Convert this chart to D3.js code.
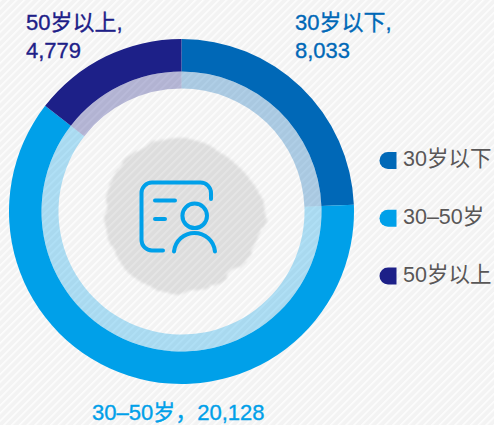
<!DOCTYPE html>
<html>
<head>
<meta charset="utf-8">
<script src="https://cdn.jsdelivr.net/npm/d3@7"></script>
<style>
html, body { margin: 0; padding: 0; background: #f5f5f5; overflow: hidden; }
text { font-family: "Liberation Sans", "Noto Sans CJK SC", sans-serif; }
</style>
</head>
<body>
<svg width="494" height="425"></svg>
<script>
const categories = ['30岁以下', '30–50岁', '50岁以上'];
const values = [8033, 20128, 4779];
const colors = ['#0068b7', '#00a0e9', '#1d2088'];
// rough outline of the grey blob behind the icon, radius per step round the circle
const blobRadii = [77, 75, 72, 72, 74, 78, 80, 78, 76, 73, 74, 77, 78, 79, 80, 81, 80, 80, 80, 81, 80, 81, 80, 78];

let svg = d3.select('svg');
let cx = 181.5, cy = 211.5;

let defs = svg.append('defs');
let hatch = defs.append('pattern')
    .attr('id', 'hatch')
    .attr('width', 5.5)
    .attr('height', 5.5)
    .attr('patternUnits', 'userSpaceOnUse')
    .attr('patternTransform', 'rotate(45)');
hatch.append('rect').attr('width', 5.5).attr('height', 5.5).attr('fill', '#f3f3f3');
hatch.append('rect').attr('width', 1.6).attr('height', 5.5).attr('fill', '#fdfdfd');

let soft = defs.append('filter').attr('id', 'soft')
    .attr('x', '-20%').attr('y', '-20%').attr('width', '140%').attr('height', '140%');
soft.append('feTurbulence')
    .attr('type', 'fractalNoise')
    .attr('baseFrequency', 0.05)
    .attr('numOctaves', 3)
    .attr('seed', 4)
    .attr('result', 'noise');
soft.append('feDisplacementMap')
    .attr('in', 'SourceGraphic')
    .attr('in2', 'noise')
    .attr('scale', 9)
    .attr('result', 'rough');
soft.append('feGaussianBlur').attr('in', 'rough').attr('stdDeviation', 1.2);

svg.append('rect').attr('width', 494).attr('height', 425).attr('fill', 'url(#hatch)');

// grey blob
let blob = d3.lineRadial()
    .angle((d, i) => i / blobRadii.length * 2 * Math.PI)
    .radius(d => d)
    .curve(d3.curveCatmullRomClosed);
svg.append('path')
    .attr('transform', 'translate(185,215)')
    .attr('d', blob(blobRadii))
    .attr('fill', '#000')
    .attr('fill-opacity', 0.09)
    .attr('filter', 'url(#soft)');

// rings
let pie = d3.pie().sort(null).value(d => d);
let outer = d3.arc().innerRadius(140).outerRadius(172.5);
let inner = d3.arc().innerRadius(123).outerRadius(140);
let g = svg.append('g').attr('transform', 'translate(' + cx + ',' + cy + ')');
g.selectAll('path.outer')
    .data(pie(values))
    .enter().append('path')
    .attr('class', 'outer')
    .attr('d', outer)
    .attr('fill', (d, i) => colors[i]);
g.selectAll('path.inner')
    .data(pie(values))
    .enter().append('path')
    .attr('class', 'inner')
    .attr('d', inner)
    .attr('fill', (d, i) => colors[i])
    .attr('fill-opacity', 0.3);

// icon
let icon = svg.append('g')
    .attr('fill', 'none')
    .attr('stroke', '#00a0e9')
    .attr('stroke-width', 4)
    .attr('stroke-linecap', 'round');
icon.append('path').attr('d', 'M211 199V193A10.5 10.5 0 0 0 200.500 182.500H152A10.500 10.500 0 0 0 141.500 193V240A10.500 10.500 0 0 0 152 250.500H163');
icon.append('path').attr('d', 'M155 200.500H175');
icon.append('path').attr('d', 'M155 219H165');
icon.append('circle').attr('cx', 194.700).attr('cy', 215.800).attr('r', 12.300);
icon.append('path').attr('d', 'M174 251.500A20.600 20.600 0 0 1 215 251.500');

// value labels
let labelSize = 22;
function label(x, y, str, color) {
    svg.append('text')
        .attr('x', x).attr('y', y)
        .attr('font-size', labelSize)
        .attr('fill', color)
        .attr('stroke', color)
        .attr('stroke-width', 0.35)
        .text(str);
}
label(26, 30, categories[2] + ',', colors[2]);
label(26, 58, d3.format(',')(values[2]), colors[2]);
label(295, 30, categories[0] + ',', colors[0]);
label(295, 58, d3.format(',')(values[0]), colors[0]);
label(92, 420, categories[1] + '，' + d3.format(',')(values[1]), colors[1]);

// legend
let legendY = d3.scalePoint().domain(categories).range([160.500, 276]);
let legend = svg.selectAll('g.legend')
    .data(categories)
    .enter().append('g')
    .attr('class', 'legend')
    .attr('transform', d => 'translate(0,' + legendY(d) + ')');
legend.append('path')
    .attr('d', 'M396.500 -8.500V8.500H388A8.500 8.500 0 0 1 388 -8.500Z')
    .attr('fill', (d, i) => colors[i]);
legend.append('text')
    .attr('x', 403)
    .attr('y', 5.500)
    .attr('font-size', 21.500)
    .attr('fill', '#595757')
    .text(d => d);
</script>
</body>
</html>
